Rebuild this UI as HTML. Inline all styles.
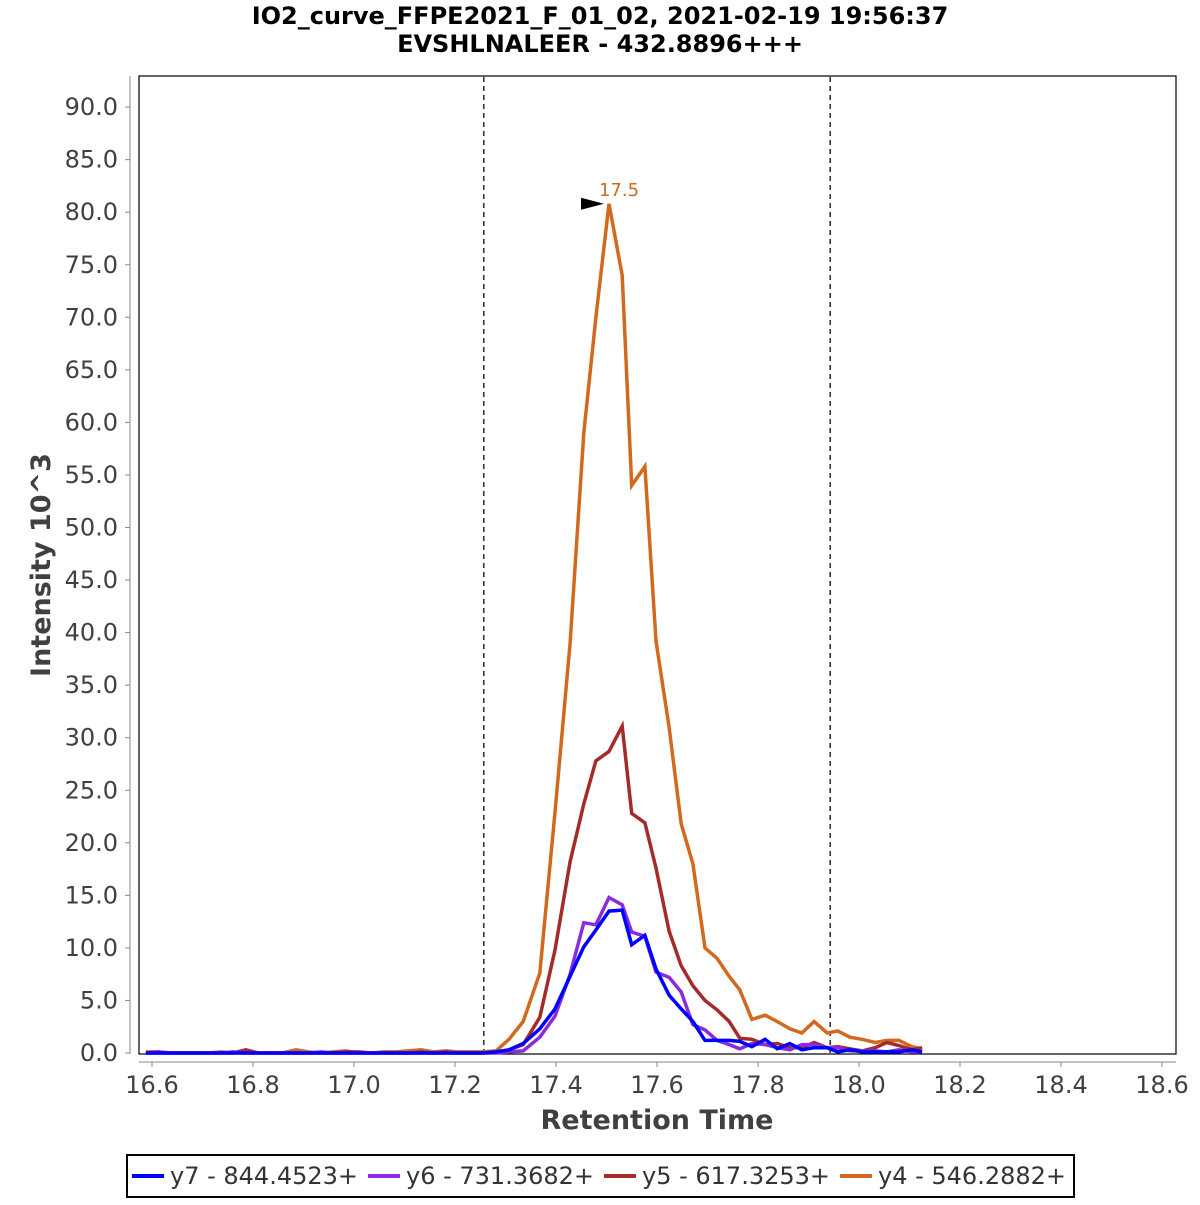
<!DOCTYPE html>
<html><head><meta charset="utf-8"><style>
body{margin:0;background:#fff;}
</style></head><body>
<svg id="chart" width="1200" height="1200" xmlns="http://www.w3.org/2000/svg" font-family="DejaVu Sans, sans-serif">
<rect width="1200" height="1200" fill="#fff"/>
<text x="600" y="24" text-anchor="middle" font-size="24" font-weight="bold">IO2_curve_FFPE2021_F_01_02, 2021-02-19 19:56:37</text>
<text x="600" y="52" text-anchor="middle" font-size="24" font-weight="bold">EVSHLNALEER - 432.8896+++</text>
<g id="yaxis"></g>
<g id="xaxis"></g>
<rect x="139" y="76" width="1037" height="978" fill="none" stroke="#000" stroke-width="1.2"/>
<g id="marks"></g>
<text x="50" y="565" transform="rotate(-90 50 565)" text-anchor="middle" font-size="27" font-weight="bold" fill="#404040">Intensity 10^3</text>
<text x="657" y="1129" text-anchor="middle" font-size="27" font-weight="bold" fill="#404040">Retention Time</text>
<g id="legend"></g>
</svg>
<script>
const xTicks=[16.6,16.8,17.0,17.2,17.4,17.6,17.8,18.0,18.2,18.4,18.6];
const yTicks=[0,5,10,15,20,25,30,35,40,45,50,55,60,65,70,75,80,85,90];
const boundaries=[17.257,17.943];
const times=[16.588,16.612,16.638,16.661,16.687,16.711,16.737,16.760,16.786,16.810,16.836,16.859,16.885,16.909,16.935,16.958,16.984,17.008,17.034,17.057,17.083,17.107,17.133,17.156,17.182,17.206,17.232,17.255,17.281,17.307,17.335,17.368,17.398,17.428,17.455,17.479,17.505,17.531,17.550,17.576,17.598,17.624,17.648,17.671,17.695,17.719,17.743,17.764,17.788,17.814,17.838,17.863,17.887,17.911,17.937,17.958,17.982,18.006,18.032,18.055,18.079,18.105,18.125];
const y4=[0.1,0.1,0,0,0,0,0.1,0,0.1,0,0,0,0.3,0.1,0,0.1,0.2,0,0,0.1,0.1,0.2,0.3,0.1,0.2,0.1,0.1,0.1,0.2,1.3,3.0,7.6,22.9,39,59,70,80.8,74,54,55.8,39.2,31,21.8,18,10,9,7.3,6,3.2,3.6,3.0,2.3,1.9,3.0,1.9,2.1,1.5,1.3,1.0,1.2,1.2,0.6,0.4];
const y5=[0,0,0,0,0,0,0,0,0.3,0,0,0,0,0,0,0,0.1,0.1,0,0,0,0,0.1,0,0.1,0,0,0,0.1,0.3,0.8,3.4,9.8,18.2,23.7,27.8,28.7,31.1,22.8,21.9,17.6,11.6,8.3,6.4,5.0,4.1,3.0,1.4,1.3,0.8,0.9,0.5,0.5,1.0,0.5,0.6,0.4,0.2,0.5,1.0,0.7,0.3,0.5];
const y6=[0,0.1,0,0,0,0,0,0.1,0,0,0,0,0,0,0.1,0,0,0,0,0,0,0,0,0,0,0,0,0,0,0.1,0.2,1.5,3.5,7.5,12.4,12.2,14.8,14.1,11.5,11.1,7.7,7.2,5.8,2.7,2.2,1.2,0.8,0.4,0.9,0.8,0.5,0.3,0.8,0.8,0.5,0.5,0.2,0.2,0.2,0.1,0.3,0.1,0.1];
const y7=[0,0,0,0,0,0,0,0,0,0,0,0,0,0,0,0,0,0,0,0,0,0,0,0,0,0,0,0,0.1,0.3,0.9,2.3,4.2,7.3,10.1,11.7,13.5,13.6,10.3,11.2,8.0,5.5,4.2,3.0,1.2,1.2,1.2,1.1,0.6,1.3,0.4,0.9,0.3,0.5,0.5,0.1,0.3,0.1,0.1,0.1,0.1,0.3,0.1];
const seriesNames=["y7 - 844.4523+","y6 - 731.3682+","y5 - 617.3253+","y4 - 546.2882+"];
const seriesColors=["#0000ff","#8a2be2","#a52a2a","#d2691e"];
const seriesData=[y7,y6,y5,y4];
const peakTime=17.505, peakValue=80.8, peakLabel="17.5";

const NS="http://www.w3.org/2000/svg";
const X=t=>152+(t-16.6)*505;
const Y=v=>1053-v*10.51;
function mk(tag,attrs,parent){const e=document.createElementNS(NS,tag);for(const k in attrs)e.setAttribute(k,attrs[k]);parent.appendChild(e);return e;}
const ya=document.getElementById('yaxis'),xa=document.getElementById('xaxis'),marks=document.getElementById('marks'),lg=document.getElementById('legend');
mk('line',{x1:130,y1:76,x2:130,y2:1054,stroke:'#888','stroke-width':1},ya);
yTicks.forEach(v=>{
  mk('line',{x1:125,y1:Y(v),x2:130,y2:Y(v),stroke:'#888'},ya);
  const t=mk('text',{x:118,y:Y(v)+8,'text-anchor':'end','font-size':24,fill:'#404040'},ya);
  
  
  t.textContent=v.toFixed(1);
});
mk('line',{x1:139,y1:1062,x2:1176,y2:1062,stroke:'#888','stroke-width':1},xa);
xTicks.forEach(v=>{
  mk('line',{x1:X(v),y1:1062,x2:X(v),y2:1067,stroke:'#888'},xa);
  const t=mk('text',{x:X(v),y:1093,'text-anchor':'middle','font-size':24,fill:'#404040'},xa);
  
  
  t.textContent=v.toFixed(1);
});
boundaries.forEach(b=>{
  const l=mk('line',{x1:X(b),y1:77,x2:X(b),y2:1053,stroke:'#333','stroke-width':1.6,'stroke-dasharray':'5,4'},marks);
  
  
});
[3,2,1,0].forEach(i=>{
  const pts=times.map((t,j)=>X(t).toFixed(1)+','+Y(seriesData[i][j]).toFixed(1)).join(' ');
  const p=mk('polyline',{points:pts,fill:'none',stroke:seriesColors[i],'stroke-width':3.5,'stroke-linejoin':'miter'},marks);
  
  
});
const px=X(peakTime),py=Y(peakValue);
const arr=mk('polygon',{points:`${px-28},${py-6} ${px-5},${py} ${px-28},${py+6}`,fill:'#000'},marks);


const pl=mk('text',{x:px+10,y:py-8,'text-anchor':'middle','font-size':18,fill:'#d2691e'},marks);


pl.textContent=peakLabel;
const box=mk('rect',{x:127,y:1155,width:947,height:42,fill:'#fff',stroke:'#000','stroke-width':2},lg);


const lx=[132,368,604,840];
seriesNames.forEach((n,i)=>{
  const g=mk('g',{},lg);
  
  
  mk('line',{x1:lx[i],y1:1176,x2:lx[i]+32,y2:1176,stroke:seriesColors[i],'stroke-width':4},g);
  const t=mk('text',{x:lx[i]+38,y:1184,'font-size':24,fill:'#333'},g);
  t.textContent=n;
});
</script>
</body></html>
